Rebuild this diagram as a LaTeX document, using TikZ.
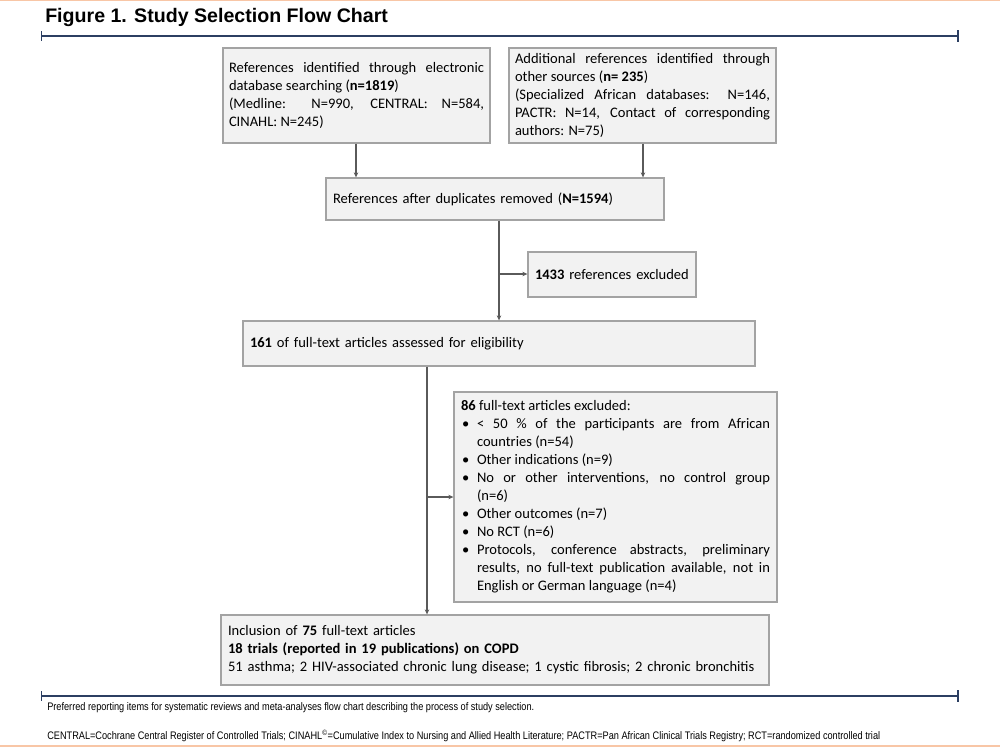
\documentclass[tikz,border=0pt]{standalone}
\usepackage{fontspec}
\setmainfont{Carlito}
\newfontfamily\titlefont{Liberation Sans}
\newfontfamily\notefont[FakeStretch=0.84]{Liberation Sans}
\usetikzlibrary{arrows.meta,calc}
\hyphenpenalty=10000
\exhyphenpenalty=10000
\newdimen\pxu \pxu=0.75pt
\definecolor{boxfill}{HTML}{F2F2F2}
\definecolor{boxline}{HTML}{A3A3A3}
\definecolor{conn}{HTML}{5A5A5A}
\definecolor{navy}{HTML}{2C3F62}
\definecolor{peach}{HTML}{F8C6A6}
\newcommand\bitem[1]{\par\hangindent=16\pxu\hangafter=1\noindent\makebox[16\pxu][l]{\hspace{1\pxu}\textbullet}#1}
\begin{document}
\begin{tikzpicture}[x=0.75pt,y=-0.75pt,
  fbox/.style={draw=boxline,fill=boxfill,line width=1pt,inner xsep=4.5pt,inner ysep=0pt,
    font=\fontsize{10.9pt}{13.5pt}\selectfont,anchor=center},
  arr/.style={draw=conn,line width=0.9pt,-{Stealth[length=3.75pt,width=3.4pt]}},
  rulel/.style={draw=navy,line width=1.5pt},
  note/.style={anchor=west,inner sep=0pt,font=\notefont\fontsize{8.2pt}{9pt}\selectfont}]
\useasboundingbox (0,0) rectangle (1000,747);
\fill[white] (0,0) rectangle (1000,747);
\draw[peach,line width=1.1pt] (0,0.75) -- (1000,0.75);
\draw[peach,line width=1.1pt] (0,746) -- (1000,746);
% title and rules
\node[anchor=west,inner sep=0pt,font=\titlefont\bfseries\fontsize{14.7pt}{16pt}\selectfont] (title) at (45,17) {Figure 1. Study Selection Flow Chart};
\coordinate (rl1) at (41,36); \coordinate (rr1) at (958,36);
\draw[rulel] (rl1) -- (rr1);
\draw[navy,line width=0.75pt] ($(rl1)+(0,-5)$) -- ($(rl1)+(0,5)$);
\draw[navy,line width=1.6pt] ($(rr1)+(0,-6)$) -- ($(rr1)+(0,6)$);
\coordinate (rl2) at (41,696); \coordinate (rr2) at (958,696);
\draw[rulel] (rl2) -- (rr2);
\draw[navy,line width=0.75pt] ($(rl2)+(0,-5)$) -- ($(rl2)+(0,5)$);
\draw[navy,line width=1.6pt] ($(rr2)+(0,-6)$) -- ($(rr2)+(0,6)$);
% boxes
\node[fbox,minimum width=267\pxu,minimum height=95\pxu,text width=255\pxu,align=justify] (b1) at (356.5,95.5)
 {References identified through electronic\linebreak database searching (\textbf{n=1819})\\ (Medline: N=990, CENTRAL: N=584,\linebreak CINAHL: N=245)};
\node[fbox,minimum width=267\pxu,minimum height=95\pxu,text width=255\pxu,align=justify] (b2) at (642.5,95.5)
 {Additional references identified through\linebreak other sources (\textbf{n=~235})\\ (Specialized African databases: N=146,\linebreak PACTR: N=14, Contact of corresponding\linebreak authors: N=75)};
\node[fbox,minimum width=338\pxu,minimum height=42\pxu,text width=324\pxu,align=left,inner xsep=7\pxu] (b3) at (495,199)
 {References after duplicates removed (\textbf{N=1594})};
\node[fbox,minimum width=168\pxu,minimum height=45\pxu,text width=154\pxu,align=left,inner xsep=7\pxu] (b5) at (612,274.5)
 {\textbf{1433} references excluded};
\node[fbox,minimum width=512\pxu,minimum height=45\pxu,text width=498\pxu,align=left,inner xsep=7\pxu] (b4) at (499,343.5)
 {\textbf{161} of full-text articles assessed for eligibility};
\node[fbox,minimum width=323\pxu,minimum height=210\pxu,text width=309\pxu,inner xsep=7\pxu,align=justify] (b6) at (615.5,497)
 {\noindent\textbf{86} full-text articles excluded:
  \bitem{\textless{} 50 \% of the participants are from African\linebreak countries (n=54)}
  \bitem{Other indications (n=9)}
  \bitem{No or other interventions, no control group\linebreak (n=6)}
  \bitem{Other outcomes (n=7)}
  \bitem{No RCT (n=6)}
  \bitem{Protocols, conference abstracts, preliminary\linebreak results, no full-text publication available, not in\linebreak English or German language (n=4)}\par};
\node[fbox,minimum width=548\pxu,minimum height=70\pxu,text width=534\pxu,align=left,inner xsep=7\pxu] (b7) at (495,650)
 {Inclusion of \textbf{75} full-text articles\\ \textbf{18 trials (reported in 19 publications) on COPD}\\ 51 asthma; 2 HIV-associated chronic lung disease; 1 cystic fibrosis; 2 chronic bronchitis};
% connectors
\coordinate (c1) at (356,0);
\coordinate (c2) at (643,0);
\coordinate (c3) at (499,274);
\coordinate (c4) at (427,497);
\draw[arr] (c1 |- b1.south) -- (c1 |- b3.north);
\draw[arr] (c2 |- b2.south) -- (c2 |- b3.north);
\draw[arr] (c3 |- b3.south) -- (c3 |- b4.north);
\draw[arr] (c3) -- (b5.west |- c3);
\draw[arr] (c4 |- b4.south) -- (c4 |- b7.north);
\draw[arr] (c4) -- (b6.west |- c4);
% notes
\node[note] (n1) at (47,708)
 {Preferred reporting items for systematic reviews and meta-analyses flow chart describing the process of study selection.};
\node[note] (n2) at (47,736)
 {CENTRAL=Cochrane Central Register of Controlled Trials; CINAHL\textsuperscript{\textcopyright}=Cumulative Index to Nursing and Allied Health Literature; PACTR=Pan African Clinical Trials Registry; RCT=randomized controlled trial};
\end{tikzpicture}
\end{document}
